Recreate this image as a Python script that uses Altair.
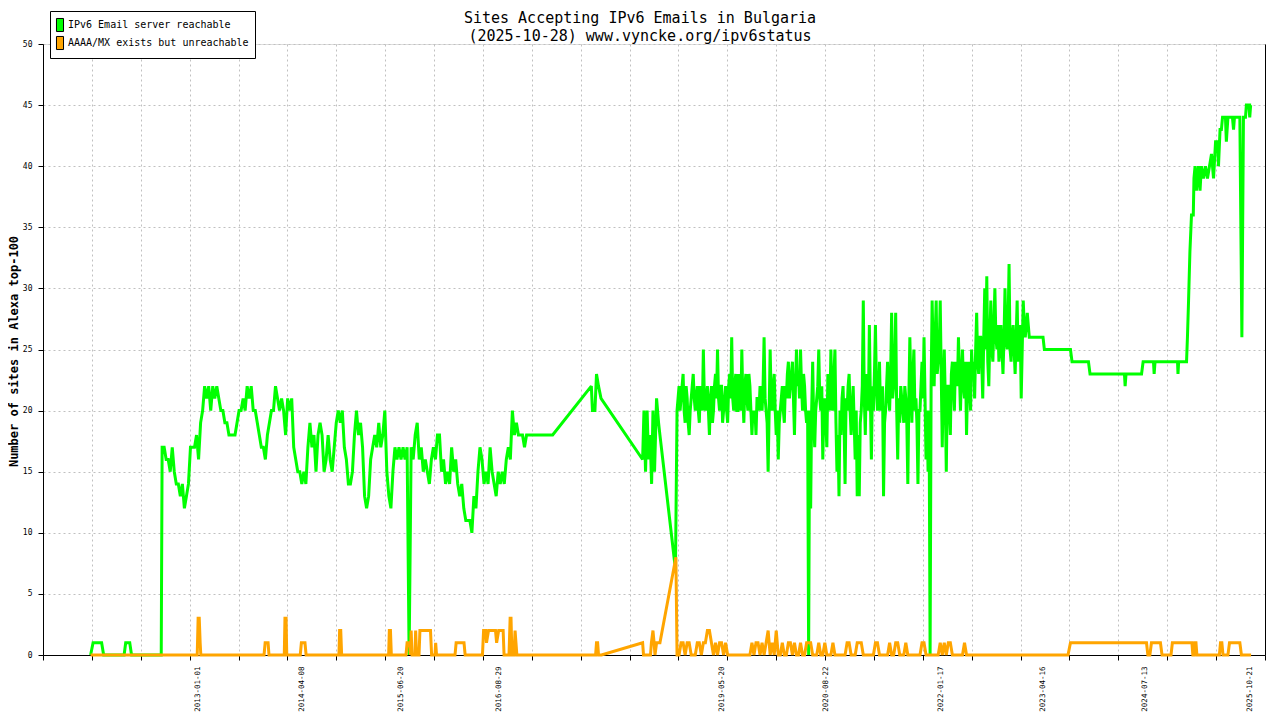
import altair as alt
import numpy as np
import pandas as pd

MONO = "DejaVu Sans Mono"
SERIES = ["IPv6 Email server reachable", "AAAA/MX exists but unreachable"]
COLORS = ["#00ff00", "#ffa500"]
TITLE_LINES = ["Sites Accepting IPv6 Emails in Bulgaria", "(2025-10-28) www.vyncke.org/ipv6status"]
Y_TITLE = "Number of sites in Alexa top-100"

X_LABEL_DATES = ["2013-01-01", "2014-04-08", "2015-06-20", "2016-08-29", "2019-05-20",
                 "2020-08-22", "2022-01-17", "2023-04-16", "2024-07-13", "2025-10-21"]
Y_TICKS = [0, 5, 10, 15, 20, 25, 30, 35, 40, 45, 50]
X_DOMAIN = ["2011-02-13T09:36:00", "2025-12-28T19:12:00"]
N_GRID_INTERVALS = 25

STEP_DAYS = 9          # sampling step of the 2012-2017 part
DENSE_STEP_HOURS = 108  # sampling step (4.5 days) of the dense 2018-2023 part

# ---------------- green: IPv6 Email server reachable ----------------
GREEN_EARLY_DATES = ["2011-09-13", "2011-09-24", "2011-11-01", "2011-11-10", "2012-02-09",
                     "2012-02-16", "2012-03-05", "2012-03-13", "2012-07-23"]
GREEN_EARLY_VALUES = [0, 1, 1, 0, 0, 1, 1, 0, 0]

GREEN_SEG1_START = "2012-07-27"
GREEN_SEG1_VALUES = [
    17, 17, 16, 16, 15, 17, 15, 14, 14, 13,
    14, 12, 13, 14, 17, 17, 17, 18, 16, 19,
    20, 22, 21, 22, 20, 22, 21, 22, 21, 20,
    20, 19, 19, 18, 18, 18, 18, 19, 20, 20,
    21, 20, 22, 21, 22, 20, 20, 19, 18, 17,
    17, 16, 18, 19, 20, 20, 22, 21, 20, 21,
    20, 18, 21, 20, 21, 17, 16, 15, 15, 14,
    15, 14, 17, 19, 17, 18, 15, 18, 19, 18,
    15, 16, 18, 16, 15, 17, 19, 20, 19, 20,
    17, 16, 14, 14, 15, 18, 20, 18, 19, 17,
    13, 12, 13, 16, 17, 18, 17, 19, 17, 18,
    20, 15, 13, 12, 15, 17, 16, 17, 16, 17,
    16, 17, 0, 17, 16, 18, 19, 16, 17, 15,
    16, 15, 14, 16, 17, 16, 18, 18, 15, 16,
    14, 15, 14, 17, 15, 16, 14, 13, 14, 12,
    11, 11, 11, 10, 13, 12, 15, 17, 16, 14,
    15, 14, 17, 15, 14, 13, 15, 14, 15, 14,
    16, 17, 16, 20, 18, 19, 18, 18, 18, 17,
    18,
]

GREEN_MID_DATES = ["2017-04-28", "2017-10-17", "2017-10-22", "2017-11-02", "2017-11-09",
                   "2017-11-18", "2017-11-29", "2018-06-02", "2018-06-08", "2018-06-15",
                   "2018-06-22", "2018-06-28", "2018-07-05", "2018-07-12", "2018-07-18",
                   "2018-07-25", "2018-08-03", "2018-08-12", "2018-08-18", "2018-10-26"]
GREEN_MID_VALUES = [18, 22, 20, 20, 23, 22, 21, 16, 20, 15,
                    20, 16, 18, 14, 20, 15, 21, 19, 18, 7]

GREEN_SEG2_START = "2018-11-02"
GREEN_SEG2_VALUES = [
    20, 21, 22, 20, 21, 22, 23, 20, 19, 22, 21, 19, 18, 20, 21, 22, 23, 21, 20, 21,
    22, 20, 19, 22, 21, 20, 25, 21, 20, 21, 22, 20, 18, 21, 22, 19, 20, 22, 23, 21,
    25, 21, 20, 22, 22, 19, 20, 21, 22, 20, 19, 22, 23, 21, 26, 21, 20, 22, 23, 20,
    20, 23, 22, 20, 25, 21, 19, 22, 23, 21, 20, 23, 22, 20, 18, 20, 19, 20, 18, 21,
    21, 20, 22, 21, 20, 22, 26, 21, 20, 19, 15, 20, 25, 21, 20, 22, 23, 20, 18, 20,
    16, 19, 20, 21, 22, 20, 19, 22, 21, 23, 24, 21, 22, 23, 24, 21, 18, 22, 25, 22,
    23, 21, 25, 22, 20, 23, 22, 20, 19, 20, 0, 20, 12, 20, 24, 19, 17, 20, 21, 22,
    25, 21, 20, 22, 16, 20, 21, 19, 17, 23, 22, 20, 25, 21, 20, 23, 25, 19, 15, 18,
    13, 20, 18, 21, 22, 19, 14, 21, 20, 22, 23, 20, 18, 20, 22, 19, 16, 20, 13, 18,
    13, 19, 20, 22, 29, 21, 18, 23, 22, 20, 27, 21, 16, 22, 20, 23, 27, 22, 20, 21,
    24, 20, 21, 22, 13, 19, 20, 22, 24, 21, 20, 23, 28, 21, 22, 24, 28, 20, 16, 21,
    19, 22, 21, 20, 19, 22, 21, 19, 14, 21, 26, 22, 19, 23, 25, 20, 21, 19, 14, 20,
    20, 22, 24, 21, 26, 21, 16, 20, 15, 20, 0, 22, 29, 25, 22, 26, 29, 23, 24, 25,
    29, 23, 17, 22, 25, 21, 15, 22, 22, 20, 18, 23, 24, 22, 20, 24, 23, 22, 26, 23,
    20, 23, 25, 22, 21, 24, 18, 22, 24, 22, 20, 25, 23, 24, 21, 25, 28, 24, 23, 26,
    26, 24, 21, 26, 30, 25, 31, 24, 22, 26, 29, 25, 24, 27, 30, 26, 25, 27, 24, 25,
    27, 25, 23, 26, 30, 26, 25, 27, 32, 25, 24, 26, 27, 25, 23, 26, 29, 24, 25, 27,
    21, 25, 29, 27, 26, 27, 28, 27, 26,
]

GREEN_LATE_DATES = ["2023-04-17", "2023-04-23", "2023-08-17", "2023-08-24", "2023-11-05",
                    "2023-11-12", "2024-04-13", "2024-04-16", "2024-04-20", "2024-06-28",
                    "2024-07-05", "2024-08-20", "2024-08-23", "2024-08-27", "2024-12-05",
                    "2024-12-07", "2024-12-10", "2025-01-14", "2025-01-18", "2025-01-23",
                    "2025-01-29", "2025-02-05", "2025-02-13", "2025-02-16", "2025-02-21",
                    "2025-02-27", "2025-03-08", "2025-03-15", "2025-03-21", "2025-03-30",
                    "2025-04-08", "2025-04-17", "2025-04-26", "2025-05-05", "2025-05-14",
                    "2025-05-23", "2025-06-01", "2025-06-05", "2025-06-12", "2025-06-18",
                    "2025-06-23", "2025-07-06", "2025-07-10", "2025-07-17", "2025-08-06",
                    "2025-08-11", "2025-08-15", "2025-09-08", "2025-09-17", "2025-09-24",
                    "2025-10-03", "2025-10-07", "2025-10-18", "2025-10-22", "2025-10-26",
                    "2025-10-28"]
GREEN_LATE_VALUES = [26, 25, 25, 24, 24, 23, 23, 22, 23, 23,
                     24, 24, 23, 24, 24, 23, 24, 24, 26, 29,
                     33, 36, 36, 39, 40, 38, 40, 38, 40, 39,
                     40, 39, 40, 41, 39, 42, 42, 40, 43, 43,
                     44, 44, 42, 44, 44, 43, 44, 44, 26, 44,
                     44, 45, 45, 44, 45, 45]

# ---------------- orange: AAAA/MX exists but unreachable ----------------
ORANGE_EARLY_DATES = [
    "2011-09-13", "2012-12-30", "2013-01-03", "2013-01-08", "2013-01-12", "2013-01-15",
    "2013-10-23", "2013-10-28", "2013-11-10", "2013-11-14", "2014-01-21", "2014-01-24",
    "2014-01-29", "2014-02-01", "2014-04-02", "2014-04-07", "2014-04-23", "2014-04-28",
    "2014-09-21", "2014-09-24", "2014-09-29", "2014-10-03", "2015-04-30", "2015-05-03",
    "2015-05-08", "2015-05-12", "2015-07-16", "2015-07-21", "2015-08-01", "2015-08-05",
    "2015-08-08", "2015-08-12", "2015-08-25", "2015-08-28", "2015-09-01", "2015-09-12",
    "2015-09-16", "2015-11-02", "2015-11-07", "2015-11-22", "2015-11-25", "2015-11-29",
    "2016-02-19", "2016-02-24", "2016-03-30", "2016-04-04", "2016-06-20", "2016-06-25",
    "2016-07-04", "2016-07-08", "2016-07-17", "2016-08-17", "2016-08-22", "2016-08-31",
    "2016-09-20", "2016-09-24", "2016-10-16", "2016-10-21", "2016-10-25", "2016-10-29",
    "2016-11-07", "2016-11-12", "2016-11-16", "2016-11-20", "2017-11-05", "2017-11-09",
    "2017-11-14", "2017-11-18", "2017-12-01", "2018-06-02", "2018-06-06", "2018-07-07",
    "2018-07-11", "2018-07-18", "2018-07-23", "2018-07-27", "2018-08-03", "2018-08-18",
    "2018-10-28",
]
ORANGE_EARLY_VALUES = [
    0, 0, 3, 3, 1, 0,
    0, 1, 1, 0, 0, 3,
    3, 0, 0, 1, 1, 0,
    0, 2, 2, 0, 0, 2,
    2, 0, 0, 1, 1, 0,
    2, 0, 0, 2, 0, 0,
    2, 2, 0, 0, 1, 0,
    0, 1, 1, 0, 0, 2,
    2, 1, 2, 2, 1, 2,
    2, 0, 0, 3, 3, 0,
    0, 2, 1, 0, 0, 1,
    1, 0, 0, 1, 0, 0,
    1, 2, 1, 0, 1, 1,
    8,
]

ORANGE_SEG_START = "2018-11-02"
ORANGE_SEG_VALUES = [
    0, 0, 1, 1, 0, 1, 1, 0, 0, 0,
    1, 1, 0, 1, 1, 2, 2, 1, 0, 1,
    0, 1, 1, 0, 1, 0, 0, 0, 0, 0,
    0, 0, 0, 0, 0, 0, 0, 1, 0, 1,
    1, 0, 1, 0, 1, 2, 0, 1, 0, 2,
    0, 0, 1, 0, 0, 1, 1, 0, 1, 0,
    0, 1, 0, 0, 1, 1, 1, 0, 0, 0,
    1, 0, 0, 1, 0, 0, 0, 1, 0, 0,
    0, 0, 0, 0, 1, 1, 0, 0, 0, 1,
    1, 1, 0, 0, 0, 0, 0, 0, 1, 1,
    0, 0, 0, 0, 0, 1, 0, 0, 1, 1,
    0, 0, 0, 1, 0, 0, 0, 0, 0, 0,
    0, 1, 1, 0, 0, 0, 0, 0, 0, 0,
    1, 0, 1, 0, 1, 1, 0, 0, 0, 0,
    0, 0, 1, 0,
]

ORANGE_LATE_DATES = ["2023-08-06", "2023-08-17", "2024-07-20", "2024-07-26", "2024-08-04",
                     "2024-08-11", "2024-09-20", "2024-09-27", "2024-11-06", "2024-11-12",
                     "2025-02-07", "2025-02-11", "2025-02-16", "2025-02-20", "2025-02-25",
                     "2025-03-01", "2025-06-09", "2025-06-14", "2025-06-20", "2025-06-25",
                     "2025-07-17", "2025-07-24", "2025-09-08", "2025-09-15", "2025-10-28"]
ORANGE_LATE_VALUES = [0, 1, 1, 0, 0, 1, 1, 0, 0, 1,
                      1, 0, 0, 1, 1, 0, 0, 1, 1, 0,
                      0, 1, 1, 0, 0]


def seg_dates(start, n, freq):
    return list(pd.date_range(start, periods=n, freq=freq).strftime("%Y-%m-%dT%H:%M:%SZ"))


def iso(dates):
    return [d + "T00:00:00Z" for d in dates]


green_df = pd.DataFrame({
    "date": iso(GREEN_EARLY_DATES)
    + seg_dates(GREEN_SEG1_START, len(GREEN_SEG1_VALUES), f"{STEP_DAYS}D")
    + iso(GREEN_MID_DATES)
    + seg_dates(GREEN_SEG2_START, len(GREEN_SEG2_VALUES), f"{DENSE_STEP_HOURS}h")
    + iso(GREEN_LATE_DATES),
    "value": GREEN_EARLY_VALUES + GREEN_SEG1_VALUES + GREEN_MID_VALUES + GREEN_SEG2_VALUES
    + GREEN_LATE_VALUES,
})
green_df["series"] = SERIES[0]

orange_df = pd.DataFrame({
    "date": iso(ORANGE_EARLY_DATES)
    + seg_dates(ORANGE_SEG_START, len(ORANGE_SEG_VALUES), f"{STEP_DAYS}D")
    + iso(ORANGE_LATE_DATES),
    "value": ORANGE_EARLY_VALUES + ORANGE_SEG_VALUES + ORANGE_LATE_VALUES,
})
orange_df["series"] = SERIES[1]

legend_df = pd.DataFrame({"series": SERIES})


def to_ms(s):
    return int(pd.Timestamp(s, tz="UTC").value // 10**6)


dom = [to_ms(X_DOMAIN[0]), to_ms(X_DOMAIN[1])]
grid_values = [int(v) for v in np.linspace(dom[0], dom[1], N_GRID_INTERVALS + 1)]
label_values = [to_ms(d) for d in X_LABEL_DATES]

GRID_COLOR = "#c0c0c0"
GRID_DASH = [2, 3]

xscale = alt.Scale(type="utc", domain=dom)
yscale = alt.Scale(domain=[0, 50], nice=False, zero=True)

grid_axis = alt.Axis(orient="bottom", values=grid_values, grid=True, gridColor=GRID_COLOR,
                     gridDash=GRID_DASH, gridWidth=1, labels=False, ticks=True, tickSize=5,
                     tickColor="black", domain=True, domainColor="black", domainWidth=1,
                     title=None)
label_axis = alt.Axis(orient="bottom", values=label_values, format="%Y-%m-%d", labelAngle=270,
                      labelFont=MONO, labelFontSize=7.5, labelColor="black", labelPadding=11,
                      ticks=False, domain=False, grid=False, title=None, labelOverlap=False,
                      labelFlush=False, labelBound=False)
y_left = alt.Axis(orient="left", values=Y_TICKS, grid=True, gridColor=GRID_COLOR,
                  gridDash=GRID_DASH, gridWidth=1, labelFont=MONO, labelFontSize=8,
                  labelColor="black", labelPadding=6, tickSize=5, tickColor="black",
                  domain=True, domainColor="black", title=Y_TITLE, titleFont=MONO,
                  titleFontSize=12, titleFontWeight="bold", titleColor="black",
                  titleAngle=270, titleX=-30, titleY=307, titleAlign="center",
                  titleBaseline="middle")
y_right = alt.Axis(orient="right", labels=False, ticks=False, grid=False, domain=True,
                   domainColor="black", title=None)

line_style = dict(strokeWidth=3, strokeJoin="miter", strokeMiterLimit=2)

green = alt.Chart(green_df).mark_line(color=COLORS[0], **line_style).encode(
    x=alt.X("date:T", scale=xscale, axis=grid_axis),
    y=alt.Y("value:Q", scale=yscale, axis=y_left),
)
orange = alt.Chart(orange_df).mark_line(color=COLORS[1], **line_style).encode(
    x=alt.X("date:T", scale=xscale, axis=label_axis),
    y=alt.Y("value:Q", scale=yscale, axis=y_right),
)

LEG_PATH = "M-0.47,-0.87L0.47,-0.87L0.47,0.87L-0.47,0.87Z"
legend_layer = alt.Chart(legend_df).transform_filter("false").mark_point(
    filled=True, stroke="black", strokeWidth=1, opacity=1, shape=LEG_PATH, size=225
).encode(
    fill=alt.Fill("series:N", scale=alt.Scale(domain=SERIES, range=COLORS),
                  legend=alt.Legend(title=None, orient="none", legendX=7, legendY=-33,
                                    direction="vertical", fillColor="white",
                                    strokeColor="black", padding=6, cornerRadius=0,
                                    symbolType=LEG_PATH, symbolSize=225, symbolOffset=-4,
                                    symbolStrokeColor="black", symbolStrokeWidth=1,
                                    labelFont=MONO, labelFontSize=10, labelColor="black",
                                    labelOffset=0, rowPadding=0, labelLimit=400)),
)

chart = alt.layer(green, orange, legend_layer).resolve_axis(
    x="independent", y="independent"
).properties(
    width=1222,
    height=611,
    autosize=alt.AutoSizeParams(type="none"),
    padding={"left": 35, "top": 36, "right": 7, "bottom": 57},
    title=alt.Title(text=TITLE_LINES, font=MONO, fontSize=15, fontWeight="normal",
                    color="black", anchor="middle", frame="group", dx=-14, dy=35, offset=2,
                    lineHeight=18),
).configure_view(stroke=None).configure(background="white")

chart.save("out.html", embed_options={"renderer": "svg", "actions": False})
